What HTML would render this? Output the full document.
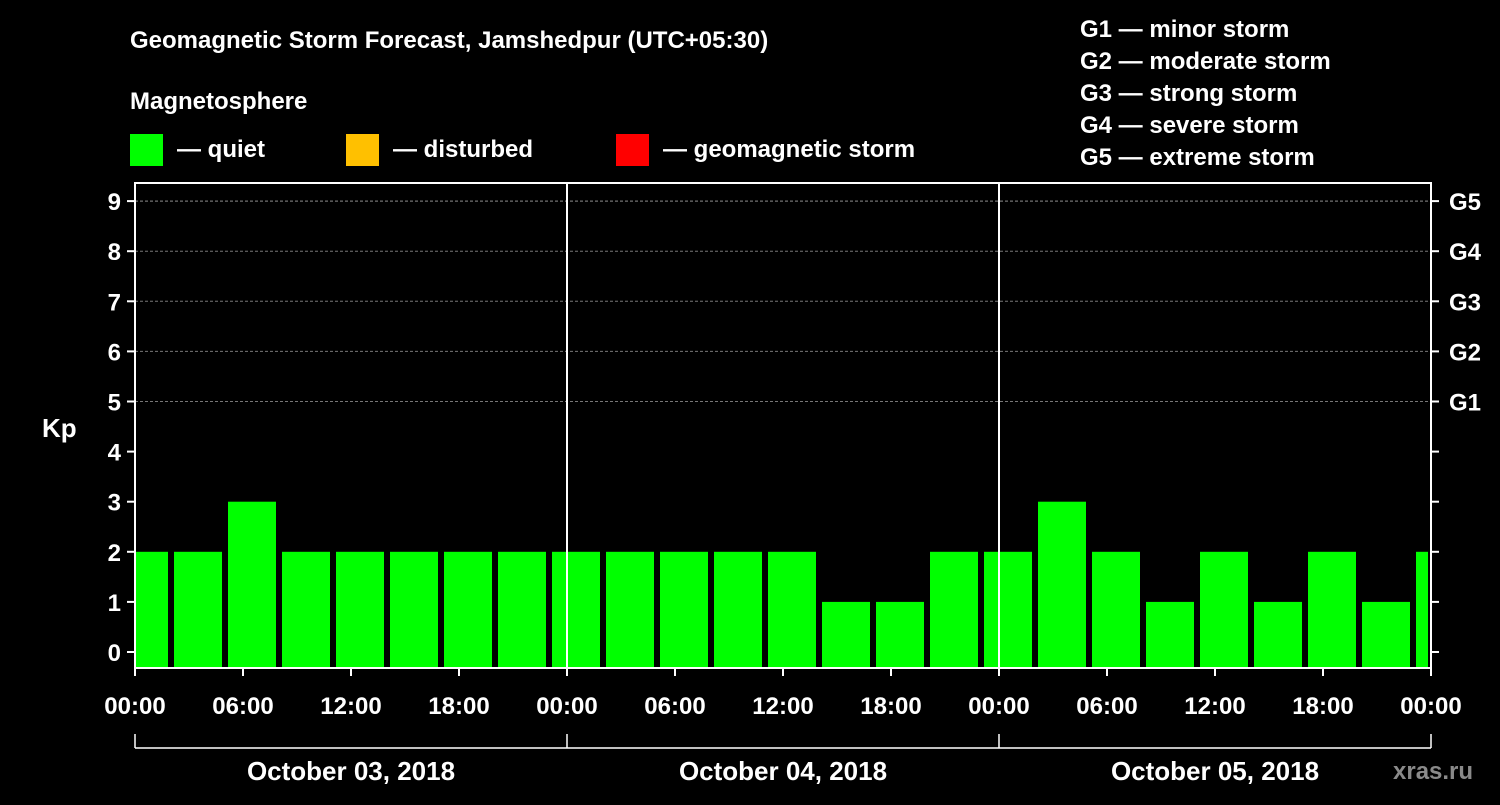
<!DOCTYPE html>
<html><head><meta charset="utf-8"><style>
body{margin:0;background:#000;width:1500px;height:800px;overflow:hidden}
svg text{font-family:"Liberation Sans",Arial,sans-serif;font-weight:bold;fill:#fff}
</style></head><body>
<svg id="chart" width="1500" height="800" viewBox="0 0 1500 800">
<rect width="1500" height="800" fill="#000"/>
<text x="130" y="48" font-size="24">Geomagnetic Storm Forecast, Jamshedpur (UTC+05:30)</text>
<text x="130" y="109" font-size="24">Magnetosphere</text>
<g><rect x="130" y="134" width="33" height="32" fill="#00ff00"/><text x="177" y="157" font-size="24">— quiet</text></g>
<g><rect x="346" y="134" width="33" height="32" fill="#ffc000"/><text x="393" y="157" font-size="24">— disturbed</text></g>
<g><rect x="616" y="134" width="33" height="32" fill="#ff0000"/><text x="663" y="157" font-size="24">— geomagnetic storm</text></g>
<g font-size="24">
<text x="1080" y="37">G1 — minor storm</text><text x="1080" y="69">G2 — moderate storm</text><text x="1080" y="101">G3 — strong storm</text><text x="1080" y="133">G4 — severe storm</text><text x="1080" y="165">G5 — extreme storm</text></g>
<text x="42" y="437" font-size="26">Kp</text>
<text x="1393" y="779" font-size="24" fill="#888" style="fill:#8a8a8a">xras.ru</text>
<g id="grid"></g><g id="bars"></g><g id="axes"></g>
</svg>
<script>
const kpValues=[2,2,3,2,2,2,2,2,2,2,2,2,2,1,1,2,2,3,2,1,2,1,2,1,2];
const firstBinStartHour=-1;
const binHours=3;
const yTicks=[0,1,2,3,4,5,6,7,8,9];
const gLabels=["G1","G2","G3","G4","G5"];
const gLevels=[5,6,7,8,9];
const xTickLabels=["00:00","06:00","12:00","18:00","00:00","06:00","12:00","18:00","00:00","06:00","12:00","18:00","00:00"];
const dayLabels=["October 03, 2018","October 04, 2018","October 05, 2018"];
const L=135,R=1431,T=183,B=668,totalHours=72;
const xS=h=>L+(h/totalHours)*(R-L);
const yS=v=>652-v*50.1;
const NS="http://www.w3.org/2000/svg";
function mk(p,tag,a){const e=document.createElementNS(NS,tag);for(const k in a)e.setAttribute(k,a[k]);p.appendChild(e);return e;}
const grid=document.getElementById('grid'),bars=document.getElementById('bars'),axes=document.getElementById('axes');
gLevels.concat([9]).forEach(v=>{const l=mk(grid,'line',{x1:L,x2:R,y1:yS(v),y2:yS(v),stroke:'#777','stroke-dasharray':'3,2','stroke-width':1});

});
kpValues.forEach((v,i)=>{let s=xS(firstBinStartHour+i*binHours)+3,e=xS(firstBinStartHour+(i+1)*binHours)-3;s=Math.max(s,L+1);e=Math.min(e,R-3);
const c=v>=5?'#ff0000':(v>=4?'#ffc000':'#00ff00');
const r=mk(bars,'rect',{x:s,y:yS(v),width:e-s,height:B-yS(v),fill:c});

});
const frame=mk(axes,'rect',{x:L,y:T,width:R-L,height:B-T,fill:'none',stroke:'#fff','stroke-width':2});


[1,2].forEach(d=>{const l=mk(axes,'line',{x1:xS(d*24),x2:xS(d*24),y1:T,y2:B,stroke:'#fff','stroke-width':2});

});
yTicks.forEach(v=>{mk(axes,'line',{x1:L-8,x2:L,y1:yS(v),y2:yS(v),stroke:'#fff','stroke-width':2});mk(axes,'line',{x1:R,x2:R+8,y1:yS(v),y2:yS(v),stroke:'#fff','stroke-width':2});
const t=mk(axes,'text',{x:L-14,y:yS(v)+9,'font-size':24,'text-anchor':'end'});t.textContent=v;

});
gLabels.forEach((g,i)=>{const t=mk(axes,'text',{x:1449,y:yS(gLevels[i])+9,'font-size':24});t.textContent=g;

});
xTickLabels.forEach((lab,i)=>{const x=xS(i*6);mk(axes,'line',{x1:x,x2:x,y1:B,y2:B+8,stroke:'#fff','stroke-width':2});
const t=mk(axes,'text',{x:x,y:714,'font-size':24,'text-anchor':'middle'});t.textContent=lab;

});
mk(axes,'line',{x1:L,x2:R,y1:748,y2:748,stroke:'#fff','stroke-width':1.5});
[0,1,2,3].forEach(d=>mk(axes,'line',{x1:xS(d*24),x2:xS(d*24),y1:734,y2:748,stroke:'#fff','stroke-width':1.5}));
dayLabels.forEach((lab,i)=>{const t=mk(axes,'text',{x:xS(i*24+12),y:780,'font-size':26,'text-anchor':'middle'});t.textContent=lab;

});
</script>
</body></html>
